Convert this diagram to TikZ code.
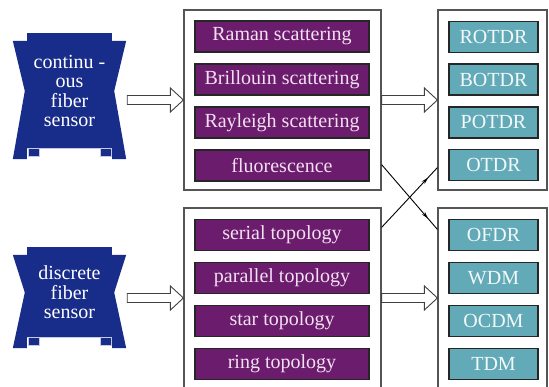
\documentclass[tikz,border=0pt]{standalone}
\usepackage{fontspec}
\setmainfont{Liberation Serif}
\usetikzlibrary{arrows.meta,calc,decorations.markings}

\definecolor{bannerblue}{RGB}{24,44,138}
\definecolor{itempurple}{RGB}{108,28,108}
\definecolor{itemteal}{RGB}{98,170,184}
\definecolor{framegray}{RGB}{85,85,85}
\definecolor{paletext}{RGB}{242,225,242}

\tikzset{
  groupbox/.style={draw=framegray,line width=1.2pt,inner sep=0pt,minimum height=180},
  physbox/.style={draw=black!85,line width=1.5pt,fill=itempurple,text=paletext,
    minimum width=174,minimum height=31,inner sep=0pt,font=\fontsize{20}{22}\selectfont},
  techbox/.style={physbox,fill=itemteal,text=white!92!itemteal,minimum width=89},
  banner/.style={fill=bannerblue,text=white,minimum width=85,inner sep=0pt,
    align=center,font=\fontsize{20}{19.5}\selectfont},
  cross/.style={line width=0.9pt,postaction=decorate,
    decoration={markings,mark=at position 0.83 with {\arrow{Stealth[length=7pt,width=4pt]}}}},
  hollow/.style={draw=black!75,line width=0.9pt,fill=white}
}

% hollow block arrow, at the height of the end point
\newcommand{\blockarrow}[2]{%
  \draw[hollow] let \p1=(#1), \p2=(#2) in
    (\x1,\y2+4.5pt) -- (\x2-13pt,\y2+4.5pt) -- (\x2-13pt,\y2+12pt) -- (\x2,\y2)
    -- (\x2-13pt,\y2-12pt) -- (\x2-13pt,\y2-4.5pt) -- (\x1,\y2-4.5pt) -- cycle;}

% side flaps and rolled ends of a banner node
\newcommand{\bannerflaps}[1]{%
  \fill[bannerblue] ([xshift=-14pt,yshift=-8pt]#1.north west) -- ([yshift=-8pt]#1.north west)
    -- ([yshift=-10pt]#1.south west) -- ([xshift=-14pt,yshift=-10pt]#1.south west)
    -- ([xshift=-2pt]#1.west) -- cycle;
  \fill[bannerblue] ([xshift=14pt,yshift=-8pt]#1.north east) -- ([yshift=-8pt]#1.north east)
    -- ([yshift=-10pt]#1.south east) -- ([xshift=14pt,yshift=-10pt]#1.south east)
    -- ([xshift=2pt]#1.east) -- cycle;
  \draw[white!75!bannerblue,line width=0.5pt] ([yshift=1pt]#1.south west) -- ([yshift=1pt]#1.south east);
  \filldraw[fill=bannerblue,draw=white!75!bannerblue,line width=0.5pt]
    ([xshift=1pt,yshift=1pt]#1.south west) rectangle ([xshift=12pt,yshift=-7pt]#1.south west);
  \filldraw[fill=bannerblue,draw=white!75!bannerblue,line width=0.5pt]
    ([xshift=-1pt,yshift=1pt]#1.south east) rectangle ([xshift=-12pt,yshift=-7pt]#1.south east);}

\begin{document}
\begin{tikzpicture}[x=1pt,y=-1pt]
  \useasboundingbox (0,0) rectangle (549,386);
  \clip (0,0) rectangle (549,386);

  % sensors
  \node[banner,minimum height=116] (cont) at (69.5,91) {continu -\\ous\\fiber\\sensor};
  \node[banner,minimum height=91] (disc) at (69.5,292.5) {discrete\\fiber\\sensor};
  \bannerflaps{cont}
  \bannerflaps{disc}

  % groups
  \node[groupbox,minimum width=197] (phys) at (282.5,100) {};
  \node[groupbox,minimum width=197] (topo) at (282.5,298) {};
  \node[groupbox,minimum width=109] (tdom) at (492.5,100) {};
  \node[groupbox,minimum width=109] (mux) at (492.5,298) {};

  \foreach \t [count=\i from 0] in {Raman scattering,Brillouin scattering,Rayleigh scattering,fluorescence}
    \node[physbox] (ph\i) at (282,36.5+43*\i) {\t};
  \foreach \t [count=\i from 0] in {serial topology,parallel topology,star topology,ring topology}
    \node[physbox] (tp\i) at (282,235+43*\i) {\t};
  \foreach \t [count=\i from 0] in {ROTDR,BOTDR,POTDR,OTDR}
    \node[techbox] (td\i) at (493.5,37+42.7*\i) {\t};
  \foreach \t [count=\i from 0] in {OFDR,WDM,OCDM,TDM}
    \node[techbox] (mx\i) at (493.5,235+43*\i) {\t};

  % connections
  \blockarrow{[xshift=15pt]cont.east}{phys.west}
  \blockarrow{[xshift=15pt]disc.east}{topo.west}
  \blockarrow{phys.east}{tdom.west}
  \blockarrow{topo.east}{mux.west}

  \draw[cross] ([yshift=26pt]phys.south east) -- ([yshift=-22pt]mux.north west);
  \draw[cross] ([yshift=-20pt]topo.north east) -- ([yshift=23pt]tdom.south west);
\end{tikzpicture}
\end{document}
